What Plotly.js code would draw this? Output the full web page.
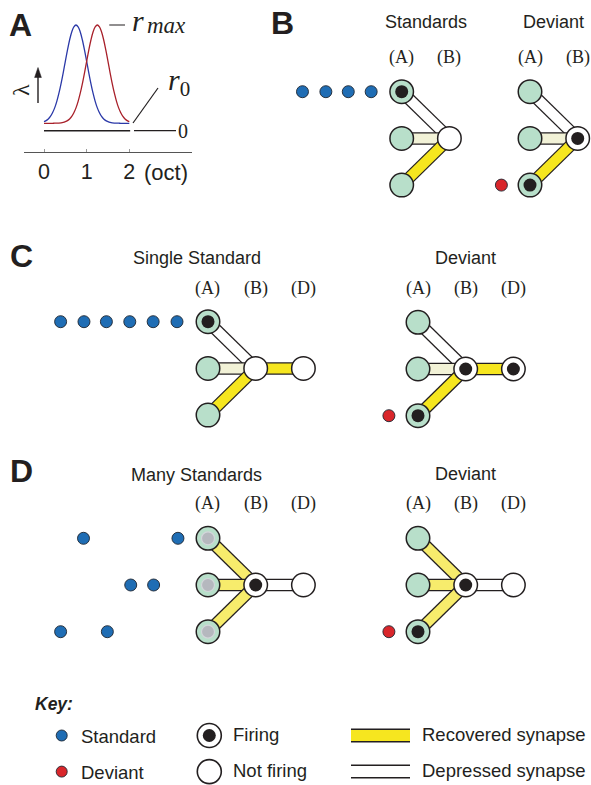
<!DOCTYPE html>
<html><head><meta charset="utf-8">
<script src="https://cdn.plot.ly/plotly-3.0.1.min.js"></script>
<style>html,body{margin:0;padding:0;background:#fff}#chart{width:591px;height:785px}</style>
</head><body><div id="chart"></div>
<script>
// ---------------- DATA ----------------
// Panel A: tuning curves (rate vs. frequency in octaves)
const octaves = [0,0.05,0.1,0.15,0.2,0.25,0.3,0.35,0.4,0.45,0.5,0.55,0.6,0.65,0.7,0.75,0.8,0.85,0.9,0.95,1,1.05,1.1,1.15,1.2,1.25,1.3,1.35,1.4,1.45,1.5,1.55,1.6,1.65,1.7,1.75,1.8,1.85,1.9,1.95,2];
const rateLow = [0.085,0.095,0.111,0.135,0.170,0.216,0.278,0.355,0.446,0.548,0.656,0.762,0.858,0.934,0.983,1.000,0.983,0.934,0.858,0.762,0.656,0.548,0.446,0.355,0.278,0.216,0.170,0.135,0.111,0.095,0.085,0.078,0.074,0.072,0.071,0.071,0.070,0.070,0.070,0.070,0.070];
const rateHigh = [0.070,0.070,0.070,0.070,0.070,0.071,0.071,0.072,0.074,0.078,0.085,0.095,0.111,0.135,0.170,0.216,0.278,0.355,0.446,0.548,0.656,0.762,0.858,0.934,0.983,1.000,0.983,0.934,0.858,0.762,0.656,0.548,0.446,0.355,0.278,0.216,0.170,0.135,0.111,0.095,0.085];
const octTickVals = [0,1,2];
const octTickText = ['0','1','2'];

// Network structure: nodes A(top), A(mid), A(bottom), B, D
const nodeCol = [0,0,0,1,2];
const nodeRow = [0,1,2,1,1];
const edgeFrom = [0,1,2,3];
const edgeTo = [3,3,3,4];
const colLabels = ['(A)','(B)','(D)'];
const netTitles = ['Standards','Deviant','Single Standard','Deviant','Many Standards','Deviant'];

// firing: 1 = firing, 0.5 = sub-threshold, 0 = silent ; synapse: 1 recovered ... 0 depressed
const bStdFiring = [1,0,0,0];
const bStdSynapse = [0,0.5,1];
const bStdStimTime = [-2.08,-1.59,-1.12,-0.64];
const bStdStimRow = [0,0,0,0];
const bDevFiring = [0,0,1,1];
const bDevSynapse = [0,0.5,1];
const bDevStimTime = [-0.6];
const bDevStimRow = [2];
const cStdFiring = [1,0,0,0,0];
const cStdSynapse = [0,0.5,1,1];
const cStdStimTime = [-3.09,-2.6,-2.13,-1.64,-1.15,-0.65];
const cStdStimRow = [0,0,0,0,0,0];
const cDevFiring = [0,0,1,1,1];
const cDevSynapse = [0,0.5,1,1];
const cDevStimTime = [-0.61];
const cDevStimRow = [2];
const dStdFiring = [0.5,0.5,0.5,1,0];
const dStdSynapse = [0.75,0.75,0.75,0];
const dStdStimTime = [-2.61,-0.63,-1.62,-1.14,-3.09,-2.11];
const dStdStimRow = [0,0,1,1,2,2];
const dDevFiring = [0,0,1,1,0];
const dDevSynapse = [0.75,0.75,0.75,0];
const dDevStimTime = [-0.61];
const dDevStimRow = [2];

// Key
const keyStimLabels = ['Standard','Deviant'];
const keyNodeLabels = ['Firing','Not firing'];
const keyNodeFiring = [1,0];
const keySynLabels = ['Recovered synapse','Depressed synapse'];
const keySynLevel = [1,0];

// ---------------- STYLE / LAYOUT ----------------
const W = 591, H = 785;
const ink = '#231f20';
const sans = 'Liberation Sans, Arial, Helvetica, sans-serif';
const serif = 'Liberation Serif, Times New Roman, serif';
const greenFill = '#b8dfca';
const blueStim = '#1f6db4', redStim = '#d9262b';
const synColor = l => l >= 1 ? '#f6e61f' : (l >= 0.75 ? '#f7ec6c' : (l > 0 ? '#f2f2d7' : '#ffffff'));
const PX_COL = 47.7, PX_ROW = 46.7;

const traces = [];
const annotations = [];
const shapes = [];
const layout = {
  width: W, height: H, margin: {l:0, r:0, t:0, b:0},
  paper_bgcolor: '#ffffff', plot_bgcolor: 'rgba(0,0,0,0)', showlegend: false,
  annotations, shapes, hovermode: false
};
const px2x = p => p / W;
const px2y = p => 1 - p / H;

// ---- Panel A ----
layout.xaxis = {domain:[24/W, 192/W], range:[-0.469, 3.470], anchor:'y', showline:true, linecolor:'#555', linewidth:1.2,
  ticks:'inside', ticklen:3, tickwidth:1, tickcolor:'#999', tickvals:octTickVals, ticktext:octTickText,
  tickfont:{family:sans, size:21.5, color:ink}, showgrid:false, zeroline:false, fixedrange:true};
layout.yaxis = {domain:[px2y(151.7), px2y(10)], range:[-0.1987, 1.1419], anchor:'x', visible:false, fixedrange:true};
traces.push({x:[0, 2.02], y:[0, 0], xaxis:'x', yaxis:'y', mode:'lines', line:{color:ink, width:1.5}});
traces.push({x:octaves, y:rateLow, xaxis:'x', yaxis:'y', mode:'lines', line:{color:'#2b39a8', width:1.3, shape:'spline'}});
traces.push({x:octaves, y:rateHigh, xaxis:'x', yaxis:'y', mode:'lines', line:{color:'#a8202a', width:1.3, shape:'spline'}});
shapes.push({type:'line', xref:'x', yref:'y', x0:2.11, x1:3.095, y0:0, y1:0, line:{color:ink, width:1.2}});
shapes.push({type:'line', xref:'x', yref:'y', x0:1.53, x1:1.90, y0:1, y1:1, line:{color:ink, width:1.2}});
shapes.push({type:'line', xref:'x', yref:'y', x0:2.087, y0:0.073, x1:2.673, y1:0.404, line:{color:ink, width:1.2}});
annotations.push({xref:'x', yref:'y', x:3.259, y:0, text:'0', showarrow:false, xanchor:'center', yanchor:'middle', font:{family:serif, size:20, color:ink}});
annotations.push({xref:'x', yref:'y', x:2.016, y:1.043, text:'<i>r</i>', showarrow:false, xanchor:'left', yanchor:'middle', font:{family:serif, size:30, color:ink}});
annotations.push({xref:'x', yref:'y', x:2.36, y:1.0, text:'<i>max</i>', showarrow:false, xanchor:'left', yanchor:'middle', font:{family:serif, size:23, color:ink}});
annotations.push({xref:'x', yref:'y', x:2.86, y:0.46, text:'<i>r</i><sub>0</sub>', showarrow:false, xanchor:'left', yanchor:'middle', font:{family:serif, size:30, color:ink}});
annotations.push({xref:'x', yref:'paper', x:2.30, y:px2y(173), text:'(oct)', showarrow:false, xanchor:'left', yanchor:'middle', font:{family:sans, size:22, color:ink}});
annotations.push({xref:'paper', yref:'paper', x:px2x(21), y:px2y(90), text:'λ', textangle:-90, showarrow:false, xanchor:'center', yanchor:'middle', font:{family:serif, size:24, color:ink}});
// up arrow next to lambda
shapes.push({type:'line', xref:'paper', yref:'paper', x0:px2x(38), x1:px2x(38), y0:px2y(103), y1:px2y(75), line:{color:ink, width:1.4}});
shapes.push({type:'path', xref:'paper', yref:'paper',
  path:'M '+px2x(38)+' '+px2y(67.5)+' L '+px2x(34.6)+' '+px2y(77.5)+' L '+px2x(41.4)+' '+px2y(77.5)+' Z',
  fillcolor:ink, line:{color:ink, width:0.5}});

// ---- Panel letters ----
[['A',20.5,25.5],['B',282,23.5],['C',21,256],['D',21,471]].forEach(([t,x,y]) => {
  annotations.push({xref:'paper', yref:'paper', x:px2x(x), y:px2y(y), text:'<b>'+t+'</b>', showarrow:false, xanchor:'center', yanchor:'middle', font:{family:sans, size:32, color:ink}});
});

// ---- Networks ----
const nets = [
  {firing:bStdFiring, syn:bStdSynapse, stimT:bStdStimTime, stimR:bStdStimRow, stimC:blueStim},
  {firing:bDevFiring, syn:bDevSynapse, stimT:bDevStimTime, stimR:bDevStimRow, stimC:redStim},
  {firing:cStdFiring, syn:cStdSynapse, stimT:cStdStimTime, stimR:cStdStimRow, stimC:blueStim},
  {firing:cDevFiring, syn:cDevSynapse, stimT:cDevStimTime, stimR:cDevStimRow, stimC:redStim},
  {firing:dStdFiring, syn:dStdSynapse, stimT:dStdStimTime, stimR:dStdStimRow, stimC:blueStim},
  {firing:dDevFiring, syn:dDevSynapse, stimT:dDevStimTime, stimR:dDevStimRow, stimC:redStim}
];
const geom = [
  {ax:401.7, ay:91.7, xr:[-2.5,1.5], tx:0.5, ty:-1.49, ly:-0.74},
  {ax:530, ay:91.7, xr:[-0.9,1.25], tx:0.5, ty:-1.49, ly:-0.74},
  {ax:208, ay:321.7, xr:[-3.5,2.5], tx:-0.24, ty:-1.36, ly:-0.72},
  {ax:418, ay:322.3, xr:[-0.9,2.5], tx:1, ty:-1.37, ly:-0.73},
  {ax:208, ay:538.3, xr:[-3.5,2.5], tx:-0.24, ty:-1.36, ly:-0.75},
  {ax:418, ay:538.3, xr:[-0.9,2.5], tx:1, ty:-1.38, ly:-0.75}
];
const yr = [2.5, -1.7];
nets.forEach((net, k) => {
  const g = geom[k];
  const id = k + 2;
  const xa = 'x' + id, ya = 'y' + id;
  layout['xaxis' + id] = {domain:[px2x(g.ax + g.xr[0]*PX_COL), px2x(g.ax + g.xr[1]*PX_COL)], range:g.xr, anchor:ya, visible:false, fixedrange:true};
  layout['yaxis' + id] = {domain:[px2y(g.ay + yr[0]*PX_ROW), px2y(g.ay + yr[1]*PX_ROW)], range:yr, anchor:xa, visible:false, fixedrange:true};
  const n = net.firing.length;
  // synapses
  net.syn.forEach((lvl, i) => {
    const f = edgeFrom[i], t = edgeTo[i];
    const xs = [nodeCol[f], nodeCol[t]], ys = [nodeRow[f], nodeRow[t]];
    traces.push({x:xs, y:ys, xaxis:xa, yaxis:ya, mode:'lines', line:{color:ink, width:12.5}});
    traces.push({x:xs, y:ys, xaxis:xa, yaxis:ya, mode:'lines', line:{color:synColor(lvl), width:10}});
  });
  // nodes
  const nx = nodeCol.slice(0, n), ny = nodeRow.slice(0, n);
  traces.push({x:nx, y:ny, xaxis:xa, yaxis:ya, mode:'markers', cliponaxis:false,
    marker:{size:23.5, color:nx.map(c => c === 0 ? greenFill : '#ffffff'), line:{color:ink, width:1.5}}});
  const fx = [], fy = [], fc = [], flc = [], flw = [];
  net.firing.forEach((v, i) => {
    if (v > 0) { fx.push(nodeCol[i]); fy.push(nodeRow[i]); fc.push(v >= 1 ? ink : '#b5b8be'); flc.push(v >= 1 ? ink : '#d3d6da'); flw.push(v >= 1 ? 0 : 1.2); }
  });
  traces.push({x:fx, y:fy, xaxis:xa, yaxis:ya, mode:'markers', cliponaxis:false, marker:{size:13, color:fc, line:{color:flc, width:flw}}});
  // stimuli
  traces.push({x:net.stimT, y:net.stimR, xaxis:xa, yaxis:ya, mode:'markers', cliponaxis:false,
    marker:{size:12, color:net.stimC, line:{color:'#1d2530', width:0.9}}});
  // labels
  const nCols = n === 4 ? 2 : 3;
  for (let c = 0; c < nCols; c++) {
    annotations.push({xref:xa, yref:ya, x:c, y:g.ly, text:colLabels[c], showarrow:false, xanchor:'center', yanchor:'middle', font:{family:serif, size:18, color:ink}});
  }
  annotations.push({xref:xa, yref:ya, x:g.tx, y:g.ty, text:netTitles[k], showarrow:false, xanchor:'center', yanchor:'middle', font:{family:sans, size:18, color:ink}});
});

// ---- Key ----
layout.xaxis8 = {domain:[0,1], range:[0, W], anchor:'y8', visible:false, fixedrange:true};
layout.yaxis8 = {domain:[0, px2y(690)], range:[H, 690], anchor:'x8', visible:false, fixedrange:true};
const keyRowY = [735.5, 771.6];
const keyFont = {family:sans, size:18.5, color:ink};
annotations.push({xref:'x8', yref:'y8', x:33, y:703.5, text:'<b><i>Key:</i></b>', showarrow:false, xanchor:'left', yanchor:'middle', font:{family:sans, size:17.5, color:ink}});
traces.push({x:[61.7,61.7], y:keyRowY, xaxis:'x8', yaxis:'y8', mode:'markers', cliponaxis:false, marker:{size:11, color:[blueStim, redStim], line:{color:'#1d2530', width:0.9}}});
keyStimLabels.forEach((t,i) => annotations.push({xref:'x8', yref:'y8', x:79, y:keyRowY[i]+0.5, text:t, showarrow:false, xanchor:'left', yanchor:'middle', font:keyFont}));
traces.push({x:[209.3,209.3], y:keyRowY, xaxis:'x8', yaxis:'y8', mode:'markers', cliponaxis:false, marker:{size:24, color:'#ffffff', line:{color:ink, width:1.6}}});
traces.push({x:[209.3], y:[keyRowY[keyNodeFiring.indexOf(1)]], xaxis:'x8', yaxis:'y8', mode:'markers', cliponaxis:false, marker:{size:13, color:ink}});
keyNodeLabels.forEach((t,i) => annotations.push({xref:'x8', yref:'y8', x:230.5, y:keyRowY[i]-1, text:t, showarrow:false, xanchor:'left', yanchor:'middle', font:keyFont}));
keySynLevel.forEach((lvl,i) => {
  traces.push({x:[351,410], y:[keyRowY[i], keyRowY[i]], xaxis:'x8', yaxis:'y8', mode:'lines', line:{color:ink, width:14}});
  traces.push({x:[351,410], y:[keyRowY[i], keyRowY[i]], xaxis:'x8', yaxis:'y8', mode:'lines', line:{color:synColor(lvl), width:11}});
});
keySynLabels.forEach((t,i) => annotations.push({xref:'x8', yref:'y8', x:420, y:keyRowY[i]-1, text:t, showarrow:false, xanchor:'left', yanchor:'middle', font:keyFont}));

traces.forEach(t => { t.hoverinfo = 'skip'; });
Plotly.newPlot('chart', traces, layout, {staticPlot:true, displayModeBar:false});
</script>
</body></html>
